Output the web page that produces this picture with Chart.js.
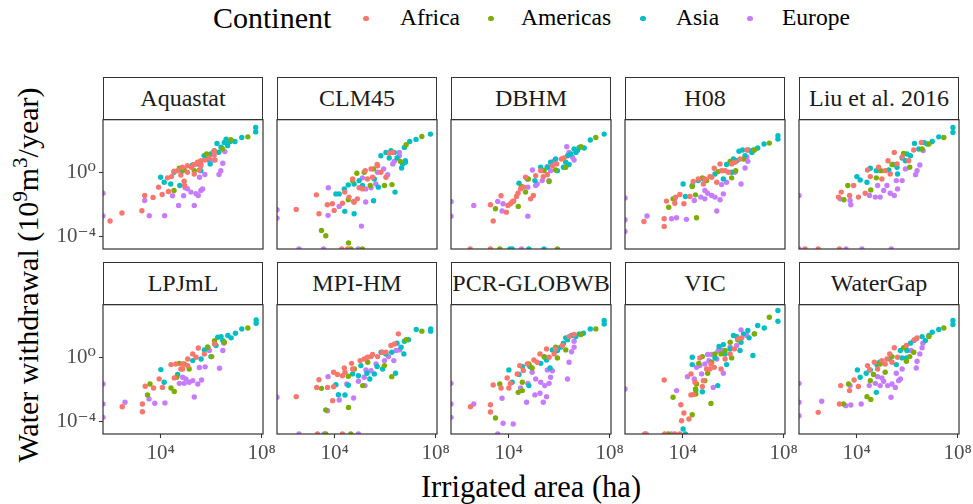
<!DOCTYPE html>
<html>
<head>
<meta charset="utf-8">
<script src="https://cdn.jsdelivr.net/npm/chart.js@4.4.1/dist/chart.umd.min.js"></script>
<style>
  body { margin: 0; background: #fff; }
  #fig { position: relative; width: 973px; height: 504px; overflow: hidden; font-family: "Liberation Serif", "DejaVu Serif", serif; color: #000; }
  .strip { position: absolute; box-sizing: border-box; border: 1.2px solid #333; background: #fff; font-size: 24px; color: #1a1a1a; text-align: center; display: flex; align-items: center; justify-content: center; white-space: nowrap; }
  .panel { position: absolute; }
  .leg { position: absolute; white-space: nowrap; }
  .dot { position: absolute; width: 5.5px; height: 5.5px; border-radius: 50%; }
  #ytitle { position: absolute; left: 28px; top: 275px; transform: translate(-50%, -50%) rotate(-90deg); font-size: 30px; white-space: nowrap; }
  #xtitle { position: absolute; left: 531px; top: 487px; transform: translate(-50%, -50%); font-size: 30.5px; white-space: nowrap; }
  sup { font-size: 0.7em; line-height: 0; }
</style>
</head>
<body>
<div id="fig">
  <div id="ytitle">Water withdrawal (10<sup>9</sup>m<sup>3</sup>/year)</div>
  <div id="xtitle">Irrigated area (ha)</div>
</div>
<script>
// values are log10: x = irrigated area (ha), y = water withdrawal (10^9 m3/year)
const models = ['Aquastat', 'CLM45', 'DBHM', 'H08', 'Liu et al. 2016',
                'LPJmL', 'MPI-HM', 'PCR-GLOBWB', 'VIC', 'WaterGap'];
const continents = ['Africa', 'Americas', 'Asia', 'Europe'];
const palette = ['#F8766D', '#7CAE00', '#00BFC4', '#C77CFF'];
const xTicks = [4, 8];
const yTicks = [-4, 0];
const xRange = [1.72, 8.05];
const yRange = [-4.75, 3.32];

const aquastatAfrica = [[2.0,-3.0],[2.47,-2.5],[3.26,-2.36],[3.37,-1.41],[3.7,-1.53],[3.92,-0.89],[4.06,-1.35],[4.31,-1.16],[4.27,-0.31],[4.43,-0.23],[4.53,0.1],[4.8,-0.13],[4.93,-0.52],[4.95,-0.79],[5.06,0.04],[5.22,0.35],[5.33,0.52],[5.46,0.66],[5.59,0.76],[5.53,0.18],[5.75,0.8],[5.92,0.93],[6.12,1.12],[6.15,0.81],[5.33,-0.07],[4.67,0.14],[4.86,0.35],[5.06,0.45],[5.59,0.45],[6.12,1.37]];
const aquastatAmericas = [[4.53,-1.1],[4.74,0.29],[4.93,0.18],[5.82,1.18],[6.09,1.29],[6.45,1.49],[6.78,2.07],[7.45,2.25],[5.59,0.56],[5.33,0.14]];
const aquastatAsia = [[4.0,-0.27],[4.14,-0.58],[4.53,0.04],[4.4,-0.69],[4.76,-0.79],[4.86,0.14],[5.26,0.5],[5.46,0.56],[5.59,0.14],[5.72,1.08],[5.85,0.87],[5.99,1.18],[6.12,1.39],[6.23,1.84],[6.39,1.6],[6.52,1.9],[6.65,1.9],[6.76,1.96],[6.94,1.96],[7.21,2.21],[7.76,2.56],[7.76,2.83],[5.96,0.56],[6.3,1.29],[6.65,1.7],[6.59,2.11]];
const aquastatEurope = [[1.72,-1.27],[1.72,-2.69],[3.37,-1.72],[3.55,-2.67],[4.16,-2.67],[4.47,-1.43],[4.71,-2.03],[4.91,-1.43],[4.97,-0.93],[5.06,-0.99],[5.2,-1.2],[5.33,-2.03],[5.4,-1.3],[5.49,-1.41],[5.59,-1.1],[5.66,-1.0],[5.54,-0.27],[5.75,-0.1],[5.93,0.77],[6.12,0.81],[6.31,-0.1],[6.38,0.14],[6.46,0.6],[6.54,1.33]];

const clm45Africa = [[2.48,-2.28],[3.28,-1.37],[3.38,-2.55],[3.71,-1.99],[3.91,-1.93],[3.98,-2.34],[4.31,-1.89],[4.4,-1.2],[4.57,-1.51],[4.71,-0.38],[4.77,-1.83],[4.9,-1.62],[4.97,-0.93],[5.1,-1.0],[5.21,0.14],[5.3,-0.38],[5.44,0.25],[5.5,-0.27],[5.7,0.45],[5.83,0.04],[6.03,-0.27],[6.16,1.22],[6.3,1.28],[4.28,-4.75],[4.51,-4.75],[5.68,0.52]];
const clm45Americas = [[3.48,-3.6],[3.65,-3.92],[4.55,-4.37],[4.64,-4.75],[5.1,-4.75],[4.54,-1.68],[4.71,-0.48],[4.88,-0.02],[5.41,-0.79],[5.54,0.25],[5.97,-0.79],[6.27,-0.73],[6.6,0.72],[6.83,1.76],[7.45,2.27],[5.17,0.04]];
const clm45Asia = [[4.05,-1.31],[4.18,-1.31],[4.38,-1.0],[4.54,-0.75],[4.4,-2.4],[4.77,-2.55],[4.77,-0.69],[4.97,-0.48],[5.1,-0.79],[5.54,-1.74],[5.73,-0.89],[5.83,1.07],[6.03,1.28],[6.16,0.93],[6.23,1.39],[6.36,1.28],[6.47,0.93],[6.65,0.31],[6.69,0.56],[6.8,0.76],[6.8,0.66],[6.76,1.59],[6.97,1.96],[7.22,2.09],[7.79,2.42],[6.39,-1.2],[5.57,-0.38]];
const clm45Europe = [[1.72,-2.3],[1.72,-2.82],[2.59,-4.75],[3.56,-4.75],[4.94,-4.75],[3.75,-0.93],[3.74,-2.65],[4.18,-2.09],[4.75,-1.78],[5.06,-3.32],[5.1,-0.31],[5.23,-1.82],[5.23,-1.0],[5.44,-0.93],[5.63,-0.69],[5.7,0.04],[5.94,0.25],[6.3,0.56],[6.36,0.72],[6.56,1.28],[6.56,1.07],[6.1,-0.11]];

const dbhmAfrica = [[2.48,-4.75],[3.28,-4.75],[3.39,-3.0],[3.28,-1.99],[3.7,-1.43],[3.91,-2.45],[3.97,-2.03],[4.07,-1.93],[4.31,-1.47],[4.37,-1.27],[4.47,-1.0],[4.6,-0.89],[4.87,-1.62],[4.98,-1.41],[4.67,-0.27],[5.07,-0.17],[5.27,0.14],[5.37,-0.23],[5.53,-0.11],[5.73,0.45],[5.9,0.56],[6.09,0.87],[6.19,0.93],[4.14,-1.82],[4.2,-1.75]];
const dbhmAmericas = [[3.65,-4.75],[5.93,-4.75],[3.48,-2.24],[4.38,-2.09],[4.51,-0.85],[4.67,-1.2],[4.78,-0.38],[5.4,0.14],[5.6,-0.54],[5.86,0.18],[6.26,0.35],[6.86,1.63],[7.45,2.21]];
const dbhmAsia = [[4.05,-4.75],[4.14,-4.75],[4.8,-4.75],[5.4,-4.75],[4.41,-0.64],[4.74,-0.38],[5.04,-0.48],[5.66,0.66],[5.86,0.87],[5.93,0.14],[6.17,0.35],[6.26,0.66],[6.33,1.07],[6.39,0.52],[6.46,1.18],[6.59,1.49],[6.66,1.28],[6.72,1.39],[6.79,1.59],[6.99,1.55],[7.23,2.05],[7.78,2.42],[5.27,0.35],[5.53,0.35]];
const dbhmEurope = [[1.72,-1.78],[1.72,-2.7],[2.62,-2.03],[3.57,-1.78],[3.78,-1.93],[3.74,-2.38],[4.18,-1.78],[4.51,-4.75],[4.76,-2.7],[4.76,-0.89],[4.94,0.18],[5.07,-0.79],[5.13,-0.69],[5.33,-0.48],[5.6,-0.48],[5.66,0.14],[5.53,0.39],[5.8,0.76],[6.3,1.63],[6.39,1.28],[6.53,0.97],[6.59,0.8]];

const h08Africa = [[2.47,-3.03],[3.27,-2.86],[3.27,-3.34],[3.36,-1.76],[3.69,-1.89],[3.72,-1.51],[3.89,-1.35],[4.05,-1.93],[4.29,-1.47],[4.42,-0.54],[4.62,-0.38],[4.82,-0.69],[4.88,-0.38],[5.08,-0.23],[5.15,-0.27],[5.25,0.29],[5.35,-0.58],[5.48,0.56],[5.54,0.14],[5.68,0.14],[5.81,0.04],[5.94,0.56],[6.07,0.66],[6.27,0.87],[6.54,1.43]];
const h08Americas = [[3.45,-2.14],[3.62,-1.62],[4.38,-0.85],[4.51,-1.37],[4.55,-2.8],[4.78,-0.31],[4.95,-0.48],[5.41,0.08],[5.88,0.72],[5.94,-0.31],[6.1,0.14],[6.41,0.87],[6.84,1.43],[7.43,1.86]];
const h08Asia = [[4.02,-0.69],[4.11,-1.47],[4.38,-0.79],[4.62,-0.48],[4.82,-0.38],[5.28,-0.07],[5.61,-0.38],[5.74,0.52],[5.94,0.04],[6.14,0.76],[6.23,1.35],[6.37,1.43],[6.47,1.07],[6.6,1.43],[6.74,1.28],[6.8,1.43],[6.97,1.55],[7.22,1.8],[7.77,2.32],[7.77,2.11],[6.01,0.87]];
const h08Europe = [[1.72,-1.56],[1.72,-2.92],[1.72,-3.65],[2.59,-2.69],[3.56,-2.86],[3.76,-2.8],[4.15,-2.9],[3.69,-1.62],[4.46,-1.72],[4.72,-1.51],[4.88,-1.62],[4.99,-1.27],[5.15,-1.41],[5.28,-1.51],[5.35,-2.38],[5.48,-1.68],[5.61,-1.31],[5.54,-0.73],[5.74,-0.58],[6.07,0.04],[6.31,-0.69],[6.47,0.31],[6.58,0.72],[6.54,1.0],[4.88,-1.1]];

const liuAfrica = [[1.96,-4.75],[2.48,-4.75],[3.32,-4.75],[3.28,-1.51],[3.39,-1.2],[3.72,-1.41],[3.88,-0.79],[4.07,-1.51],[4.34,-1.27],[4.43,0.18],[4.54,-0.23],[4.87,0.35],[5.0,-0.38],[5.13,0.14],[5.24,0.76],[5.33,-0.07],[5.49,1.28],[5.6,0.56],[5.8,1.0],[6.06,0.76],[6.26,1.43],[6.56,1.9]];
const liuAmericas = [[3.5,-1.68],[3.65,-0.79],[4.56,-1.06],[4.78,-0.31],[4.96,0.14],[5.4,0.52],[5.86,1.22],[6.1,0.35],[6.59,1.49],[6.86,1.8],[7.45,2.21]];
const liuAsia = [[4.01,-0.23],[4.14,-0.44],[4.41,-0.58],[4.54,0.29],[4.78,0.14],[5.27,0.18],[5.44,0.52],[5.6,0.35],[5.62,-0.07],[5.8,0.93],[5.93,0.76],[6.13,1.07],[6.29,1.84],[6.46,1.49],[6.66,1.9],[6.79,1.8],[6.99,1.96],[7.25,2.25],[7.81,2.83],[7.81,2.52],[5.99,1.18]];
const liuEurope = [[1.72,-1.41],[1.72,-4.75],[3.58,-4.75],[4.21,-4.75],[5.37,-4.75],[3.35,-1.62],[3.74,-1.72],[3.77,-1.99],[4.51,-1.41],[4.74,-1.51],[4.93,-1.51],[4.83,-0.79],[5.07,-1.1],[5.2,-0.79],[5.33,-1.27],[5.49,-1.41],[5.57,-0.48],[5.62,-1.0],[5.8,-0.48],[5.93,0.25],[6.33,-0.11],[6.39,0.14],[6.5,0.49],[6.63,1.39]];

const lpjmlAfrica = [[2.48,-3.05],[3.28,-2.88],[3.28,-3.36],[3.39,-1.77],[3.72,-1.88],[3.94,-1.31],[4.07,-1.84],[4.41,-0.42],[4.54,-1.25],[4.8,-0.69],[4.87,-0.38],[5.07,-0.07],[5.27,0.25],[5.49,0.62],[5.4,0.04],[5.73,0.25],[4.6,-0.38],[5.07,-0.48],[4.87,-0.69],[6.13,0.87]];
const lpjmlAmericas = [[3.48,-2.31],[3.58,-1.63],[4.41,-1.88],[4.54,-2.1],[4.64,-1.21],[4.74,-0.34],[4.93,-0.38],[5.13,-0.69],[5.86,0.67],[6.02,0.08],[6.13,1.08],[6.52,0.98],[7.45,1.87]];
const lpjmlAsia = [[4.01,-0.73],[4.14,-1.52],[4.67,-1.04],[5.27,-0.17],[5.6,-0.07],[5.73,0.5],[5.86,0.67],[5.99,0.08],[6.26,1.29],[6.39,1.33],[6.46,1.08],[6.66,1.4],[6.79,1.25],[6.96,1.54],[7.21,1.81],[7.78,2.37],[7.78,2.16],[6.19,0.77]];
const lpjmlEurope = [[1.72,-1.63],[1.72,-2.88],[1.72,-3.71],[2.59,-2.77],[3.54,-2.56],[3.77,-2.83],[4.17,-2.81],[4.74,-1.59],[4.87,-1.21],[5.0,-1.31],[5.13,-1.52],[5.27,-1.42],[5.33,-2.44],[5.47,-1.63],[5.53,-0.6],[5.62,-1.38],[5.76,-0.56],[5.93,0.46],[6.33,-0.65],[6.5,0.92],[6.46,0.46],[4.93,-1.59]];

const mpiAfrica = [[2.48,-2.42],[3.29,-1.84],[3.38,-1.36],[3.72,-1.84],[3.92,-2.67],[3.96,-1.8],[3.96,-0.9],[4.11,-1.04],[4.31,-1.11],[4.38,-0.63],[4.41,-0.9],[4.67,-0.34],[4.71,-0.69],[5.01,-0.17],[5.17,-0.07],[5.3,0.04],[5.44,0.08],[5.5,0.21],[5.7,0.08],[5.9,0.35],[6.03,0.35],[6.23,0.77],[6.37,0.87],[6.52,1.5],[3.32,-4.75],[4.31,-4.75]];
const mpiAmericas = [[3.48,-1.9],[3.65,-3.25],[4.55,-3.09],[4.54,-1.15],[4.78,-0.69],[5.11,-1.73],[5.31,-0.27],[5.97,-0.48],[6.26,-1.17],[6.83,1.13],[7.45,1.67],[3.65,-4.75],[4.64,-4.75]];
const mpiAsia = [[4.05,-1.67],[4.15,-2.3],[4.41,-2.32],[4.54,-1.71],[4.71,-1.0],[4.94,-1.11],[5.04,-0.48],[5.28,-0.96],[5.39,-1.32],[5.57,-1.0],[5.68,-0.54],[5.9,-0.69],[5.84,0.35],[6.03,0.25],[6.26,0.35],[6.41,-0.96],[6.47,0.92],[6.63,0.67],[6.74,0.25],[6.76,1.04],[6.92,1.13],[7.23,1.77],[7.8,1.81],[7.8,1.67]];
const mpiEurope = [[1.72,-2.46],[2.59,-4.75],[3.58,-4.75],[4.94,-4.75],[3.74,-1.17],[3.72,-3.3],[4.18,-2.63],[4.48,-1.63],[4.75,-2.5],[4.94,-1.46],[5.17,-1.21],[5.2,-1.73],[5.24,-0.75],[5.44,-0.8],[5.64,-0.38],[5.97,-0.17],[6.13,0.08],[6.34,-0.17],[6.43,0.46],[6.57,0.5]];

const pcrAfrica = [[2.49,-3.05],[3.28,-2.92],[3.28,-3.38],[3.39,-1.69],[3.7,-1.88],[3.94,-1.25],[4.01,-1.88],[4.07,-1.59],[4.34,-1.0],[4.44,-0.48],[4.58,-0.79],[4.74,-0.38],[5.0,-0.13],[5.13,-0.27],[5.24,0.25],[5.5,0.56],[5.6,0.04],[5.8,0.25],[5.86,0.56],[6.13,0.77],[6.39,1.33],[6.59,1.46]];
const pcrAmericas = [[3.48,-3.75],[3.65,-1.63],[4.38,-2.15],[4.54,-1.52],[4.54,-2.04],[4.8,-0.38],[4.93,-0.63],[5.4,0.08],[5.86,0.67],[5.93,0.0],[6.26,0.5],[6.86,1.46],[7.45,1.81]];
const pcrAsia = [[4.01,-0.75],[4.14,-1.52],[4.41,-1.04],[4.54,-0.54],[4.8,-1.73],[4.84,-0.54],[5.27,-0.34],[5.43,0.04],[5.5,-0.13],[5.64,-0.63],[5.73,0.5],[5.93,0.46],[6.06,0.67],[6.17,0.92],[6.26,1.25],[6.33,1.13],[6.49,1.4],[6.66,1.33],[6.79,1.5],[6.96,1.54],[7.23,1.81],[7.78,2.12],[7.78,2.33]];
const pcrEurope = [[1.72,-1.59],[1.72,-2.88],[1.72,-3.71],[2.62,-2.88],[3.57,-4.75],[3.74,-2.52],[3.78,-4.08],[4.18,-4.13],[4.47,-1.88],[4.71,-2.77],[4.76,-1.59],[4.93,-0.9],[5.04,-2.31],[5.07,-1.32],[5.24,-2.21],[5.27,-1.52],[5.37,-2.77],[5.43,-1.73],[5.5,-2.42],[5.53,-0.75],[5.6,-1.59],[5.66,-1.21],[5.73,-0.8],[6.33,-1.32],[6.39,-0.27],[6.49,0.38],[6.59,0.67],[6.59,1.04]];

const vicAfrica = [[2.5,-4.75],[3.29,-4.75],[3.69,-4.75],[3.89,-4.75],[3.27,-1.38],[3.96,-3.92],[4.05,-3.44],[3.93,-2.92],[4.25,-3.81],[4.33,-2.31],[4.42,-2.29],[4.33,-1.0],[4.49,-1.52],[4.68,0.0],[4.78,-1.79],[4.82,-1.42],[4.95,-0.69],[5.08,-0.69],[5.12,-0.38],[5.25,-0.59],[5.52,-0.69],[5.68,-0.07],[5.88,0.25],[6.05,0.56],[6.21,1.19],[6.34,1.25]];
const vicAmericas = [[3.62,-2.46],[4.38,-3.55],[4.51,-1.94],[4.52,-2.25],[4.55,-1.63],[4.64,-0.34],[4.78,0.08],[4.88,-1.42],[4.99,-0.96],[5.12,-2.84],[5.15,-0.27],[5.28,0.25],[5.52,0.25],[5.68,0.46],[5.88,0.98],[5.94,0.0],[6.18,1.13],[6.84,1.5],[7.43,2.54],[3.43,-4.75]];
const vicAsia = [[4.02,-4.44],[4.11,-4.75],[4.38,0.04],[4.38,-0.42],[4.52,-2.0],[4.78,-2.11],[5.39,-1.73],[5.28,0.0],[5.44,0.71],[5.61,0.83],[5.68,0.25],[5.74,-0.42],[5.88,0.56],[6.01,1.4],[6.14,1.33],[6.27,0.46],[6.31,0.98],[6.41,1.5],[6.58,1.71],[6.63,1.25],[6.78,0.15],[6.84,1.5],[6.97,2.02],[7.23,1.87],[7.77,2.96],[7.77,2.29]];
const vicEurope = [[1.72,-1.94],[2.56,-4.75],[3.56,-4.75],[3.76,-2.04],[4.19,-1.17],[4.46,-1.32],[4.55,-0.59],[4.68,-0.48],[4.75,-1.0],[4.88,-0.38],[4.99,0.21],[5.04,-0.17],[5.15,0.21],[5.21,-1.84],[5.35,-0.07],[5.41,0.46],[5.52,0.5],[5.61,-0.96],[5.88,0.67],[6.14,0.77],[6.31,1.75],[6.54,1.4]];

const watergapAfrica = [[2.48,-3.4],[3.32,-2.88],[3.37,-1.73],[3.72,-2.04],[3.9,-1.38],[4.07,-1.79],[4.43,-0.48],[4.51,-0.75],[4.7,-0.27],[4.83,-0.69],[5.0,-0.17],[5.13,-0.38],[5.2,-0.07],[5.31,0.25],[5.4,-0.27],[5.49,0.63],[5.62,0.04],[5.97,0.77],[6.29,1.13],[6.39,1.25]];
const watergapAmericas = [[3.48,-2.88],[3.68,-1.63],[4.41,-2.42],[4.56,-2.59],[4.54,-1.42],[4.67,-1.04],[4.93,-0.38],[5.13,-0.9],[5.4,0.08],[5.86,0.63],[5.97,-0.21],[6.1,0.08],[6.26,0.35],[6.86,1.33],[7.45,1.87]];
const watergapAsia = [[4.03,-0.75],[4.14,-1.21],[4.38,-0.96],[4.54,-0.75],[4.78,-2.15],[4.8,-0.42],[4.91,-0.27],[5.31,-0.07],[5.57,-0.42],[5.73,0.46],[5.8,0.0],[5.97,0.0],[5.99,0.46],[6.13,0.92],[6.26,1.08],[6.36,1.19],[6.59,1.33],[6.72,1.08],[6.86,1.4],[6.99,1.6],[7.25,1.77],[7.81,2.33],[7.81,2.08]];
const watergapEurope = [[1.72,-1.59],[1.72,-2.77],[1.72,-3.61],[2.62,-2.71],[3.57,-2.98],[3.77,-2.94],[4.18,-2.88],[3.74,-1.73],[4.5,-1.73],[4.74,-1.59],[4.83,-1.17],[4.93,-1.73],[5.0,-1.25],[5.07,-1.46],[5.23,-1.73],[5.36,-2.46],[5.4,-1.63],[5.53,-1.84],[5.57,-0.96],[5.66,-1.42],[5.73,-1.32],[5.8,-0.69],[6.15,0.46],[6.36,-0.63],[6.39,-0.21],[6.5,0.25],[6.59,0.63],[6.62,0.92]];

const panelData = [
  [aquastatAfrica, aquastatAmericas, aquastatAsia, aquastatEurope],
  [clm45Africa, clm45Americas, clm45Asia, clm45Europe],
  [dbhmAfrica, dbhmAmericas, dbhmAsia, dbhmEurope],
  [h08Africa, h08Americas, h08Asia, h08Europe],
  [liuAfrica, liuAmericas, liuAsia, liuEurope],
  [lpjmlAfrica, lpjmlAmericas, lpjmlAsia, lpjmlEurope],
  [mpiAfrica, mpiAmericas, mpiAsia, mpiEurope],
  [pcrAfrica, pcrAmericas, pcrAsia, pcrEurope],
  [vicAfrica, vicAmericas, vicAsia, vicEurope],
  [watergapAfrica, watergapAmericas, watergapAsia, watergapEurope]
];

// layout
const colLeft = [103, 277, 451, 625, 799];
const rowTop = [119, 304];
const plotW = 160, plotH = 130, stripH = 42;
const axW = 60, axH = 40, padR = 24, padT = 2;
const legendDotX = [366, 491, 643, 750];
const legendTextX = [400, 521, 676, 782];

const fig = document.getElementById('fig');
const supMap = { '0': '⁰', '1': '¹', '2': '²', '3': '³', '4': '⁴', '5': '⁵', '6': '⁶', '7': '⁷', '8': '⁸', '9': '⁹', '-': '⁻' };
function powerLabel(v) {
    return '10' + String(v).split('').map(c => supMap[c]).join('');
}

// legend
const legTitle = document.createElement('div');
legTitle.className = 'leg';
legTitle.textContent = 'Continent';
legTitle.style.cssText = 'left:213px;top:1px;font-size:30px;';
fig.appendChild(legTitle);
continents.forEach((name, k) => {
    const dot = document.createElement('div');
    dot.className = 'dot';
    dot.style.cssText = `left:${legendDotX[k] - 2.75}px;top:15.5px;background:${palette[k]};`;
    fig.appendChild(dot);
    const txt = document.createElement('div');
    txt.className = 'leg';
    txt.textContent = name;
    txt.style.cssText = `left:${legendTextX[k]}px;top:4px;font-size:23.5px;`;
    fig.appendChild(txt);
});

Chart.defaults.font.family = '"Liberation Serif", "DejaVu Serif", serif';

const panelFrame = {
    id: 'panelFrame',
    afterDatasetsDraw(chart) {
        const a = chart.chartArea, c = chart.ctx;
        c.save();
        c.strokeStyle = '#333333';
        c.lineWidth = 1.2;
        c.strokeRect(a.left, a.top, a.right - a.left, a.bottom - a.top);
        c.restore();
    }
};

models.forEach((model, i) => {
    const col = i % 5, row = Math.floor(i / 5);
    const left = colLeft[col], top = rowTop[row];

    const strip = document.createElement('div');
    strip.className = 'strip';
    strip.textContent = model;
    strip.style.cssText = `left:${left}px;top:${top - stripH}px;width:${plotW}px;height:${stripH + 0.6}px;`;
    fig.appendChild(strip);

    const canvas = document.createElement('canvas');
    canvas.className = 'panel';
    canvas.width = axW + plotW + padR;
    canvas.height = padT + plotH + axH;
    canvas.style.left = (left - axW) + 'px';
    canvas.style.top = (top - padT) + 'px';
    fig.appendChild(canvas);

    const showX = row === 1, showY = col === 0;

    new Chart(canvas, {
        type: 'scatter',
        data: {
            datasets: continents.map((name, k) => ({
                label: name,
                data: panelData[i][k],
                backgroundColor: palette[k],
                borderWidth: 0,
                pointRadius: 2.7,
                pointHoverRadius: 2.7
            }))
        },
        options: {
            responsive: false,
            animation: false,
            events: [],
            layout: { padding: { left: 0, right: padR, top: padT, bottom: 0 } },
            plugins: { legend: { display: false }, tooltip: { enabled: false } },
            scales: {
                x: {
                    type: 'linear',
                    min: xRange[0], max: xRange[1],
                    bounds: 'data',
                    afterBuildTicks: s => { s.ticks = xTicks.map(v => ({ value: v })); },
                    afterFit: s => { s.height = axH; s.paddingLeft = 0; s.paddingRight = 0; s.paddingTop = 0; s.paddingBottom = 0; },
                    border: { display: false },
                    grid: { display: true, drawOnChartArea: false, tickLength: 4, tickWidth: 1.1, tickColor: showX ? '#333333' : 'rgba(0,0,0,0)' },
                    ticks: { display: showX, callback: v => powerLabel(v), maxRotation: 0, autoSkip: false, padding: 3, color: '#4d4d4d', font: { size: 21 } }
                },
                y: {
                    type: 'linear',
                    min: yRange[0], max: yRange[1],
                    bounds: 'data',
                    afterBuildTicks: s => { s.ticks = yTicks.map(v => ({ value: v })); },
                    afterFit: s => { s.width = axW; s.paddingLeft = 0; s.paddingRight = 0; s.paddingTop = 0; s.paddingBottom = 0; },
                    border: { display: false },
                    grid: { display: true, drawOnChartArea: false, tickLength: 4, tickWidth: 1.1, tickColor: showY ? '#333333' : 'rgba(0,0,0,0)' },
                    ticks: { display: showY, callback: v => powerLabel(v), padding: 3, color: '#4d4d4d', font: { size: 21 } }
                }
            }
        },
        plugins: [panelFrame]
    });
});
</script>
</body>
</html>
